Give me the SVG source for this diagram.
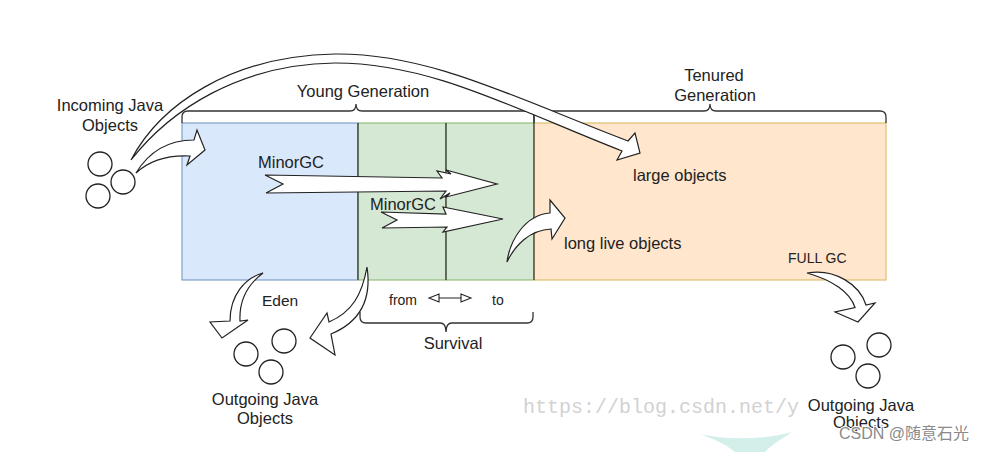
<svg xmlns="http://www.w3.org/2000/svg" width="988" height="452" viewBox="0 0 988 452">
<style>
.t{font-family:"Liberation Sans",Arial,sans-serif;font-size:16.5px;fill:#222}
.s{font-size:14px}
.m{text-anchor:middle}
.ar{fill:#fff;stroke:#222;stroke-width:1.2;stroke-linejoin:miter}
.c{fill:#fff;stroke:#222;stroke-width:1.3}
.br{fill:none;stroke:#333;stroke-width:1.3}
.dv{stroke:#333;stroke-width:1.2}
</style>
<rect width="988" height="452" fill="#fff"/>
<g id="eden"><rect x="182" y="123" width="176" height="157" fill="#dae8fc" stroke="#6c8ebf" stroke-width="1"/>
<text class="t" x="258" y="168">MinorGC</text>
<text class="t s" x="262" y="306" style="font-size:15.5px">Eden</text></g>
<g id="survivor-from"><rect x="358" y="123" width="88" height="157" fill="#d5e8d4" stroke="#82b366" stroke-width="1"/></g>
<g id="survivor-to"><rect x="446" y="123" width="88" height="157" fill="#d5e8d4" stroke="#82b366" stroke-width="1"/></g>
<g id="tenured"><rect x="534" y="123" width="352" height="157" fill="#ffe6cc" stroke="#d6b656" stroke-width="1"/>
<text class="t" x="633" y="181">large objects</text>
<text class="t" x="564" y="249">long live objects</text>
<text class="t s" x="788" y="263">FULL GC</text></g>
<g id="dividers"><line class="dv" x1="358" y1="123" x2="358" y2="280"/><line class="dv" x1="446" y1="123" x2="446" y2="280"/><line class="dv" x1="534" y1="123" x2="534" y2="280"/></g>
<g id="young-bracket"><path class="br" d="M182,123 V117 Q182,111 188,111 H350 Q356,111 356,104 Q356,111 362,111 H528 Q534,111 534,117 V123"/>
<text class="t m" x="363" y="97">Young Generation</text></g>
<g id="tenured-bracket"><path class="br" d="M534,123 V117 Q534,111 540,111 H704 Q710,111 710,104 Q710,111 716,111 H880 Q886,111 886,117 V123"/>
<text class="t m" x="714" y="81">Tenured</text><text class="t m" x="715" y="101">Generation</text></g>
<g id="survival-bracket"><path class="br" d="M360,312 V317 Q360,323 366,323 H440 Q446,323 446,332 Q446,323 452,323 H527 Q533,323 533,317 V312"/>
<text class="t m" x="453" y="349">Survival</text>
<text class="t s" x="389" y="305">from</text><text class="t s" x="492" y="305">to</text>
<path d="M439,298 H461 M429,298 L439,294 L439,302 Z M471,298 L461,294 L461,302 Z" fill="#fff" stroke="#222" stroke-width="1.1"/></g>
<g id="incoming"><circle class="c" cx="100" cy="164" r="12"/><circle class="c" cx="123" cy="182" r="12"/><circle class="c" cx="98" cy="196" r="12"/>
<text class="t m" x="110" y="111">Incoming Java</text><text class="t m" x="110" y="131">Objects</text></g>
<g id="outgoing-young"><circle class="c" cx="246" cy="354" r="12"/><circle class="c" cx="284" cy="341" r="12"/><circle class="c" cx="271" cy="372" r="12"/></g>
<g id="outgoing-tenured"><circle class="c" cx="843" cy="357" r="12"/><circle class="c" cx="879" cy="345" r="12"/><circle class="c" cx="868" cy="376" r="12"/></g>
<g id="watermark"><text x="523" y="413" style="font-family:'Liberation Mono',monospace;font-size:20px;fill:#d2d2d2">https://blog.csdn.net/y</text>
<path d="M700,434 C725,440 765,440 792,432 C780,440 770,446 765,452 L735,452 C727,445 714,439 700,434 Z" fill="#d3efea"/></g>
<g id="outgoing-labels"><text class="t m" x="265" y="405">Outgoing Java</text><text class="t m" x="265" y="424">Objects</text>
<text class="t m" x="861" y="411">Outgoing Java</text><text class="t m" x="861" y="428">Objects</text></g>
<g id="connectors">
<path class="ar" d="M131,160 C160,105 230,56 335,54 C430,53 515,98 628,141 L635,133 L640,153 L617,160 L622,151 C510,107 430,63 335,63 C240,64 170,110 131,160 Z"/>
<path class="ar" d="M136,173 C150,150 170,140 194,140 L197,130 L205,150 L187,165 L190,156 C170,155 150,160 136,173 Z"/>
<path class="ar" d="M265,175 L442,178 L437,171 L451,174 L446,170 L497,184 L446,197 L450,193 L440,199 L446,191 L266,193 L283,184 Z"/>
<path class="ar" d="M381,212 L446,214 L443,207 L503,219 L443,232 L447,227 L382,228 L397,220 Z"/>
<path class="ar" d="M507,262 C510,240 525,215 550,213 L550,200 L565,218 L552,239 L551,229 C530,230 515,245 507,262 Z"/>
<path class="ar" d="M263,273 C245,278 230,295 230,321 L210,322 L222,338 L248,320 L240,321 C239,300 247,285 263,273 Z"/>
<path class="ar" d="M367,267 C372,300 360,322 331,334 L335,355 L310,338 L327,313 L329,322 C352,312 362,295 367,267 Z"/>
<path class="ar" d="M807,273 C835,268 860,285 866,305 L875,303 L858,322 L835,312 L855,307.5 C850,292 832,280 807,273 Z"/>
</g>
<g id="minorgc2"><text class="t" x="370" y="210">MinorGC</text></g>
<text x="839" y="439" style="font-family:'Liberation Sans','Noto Sans CJK SC',sans-serif;font-size:16px;fill:#8a8a8a;stroke:#fff;stroke-width:2;paint-order:stroke">CSDN @随意石光</text>
</svg>
